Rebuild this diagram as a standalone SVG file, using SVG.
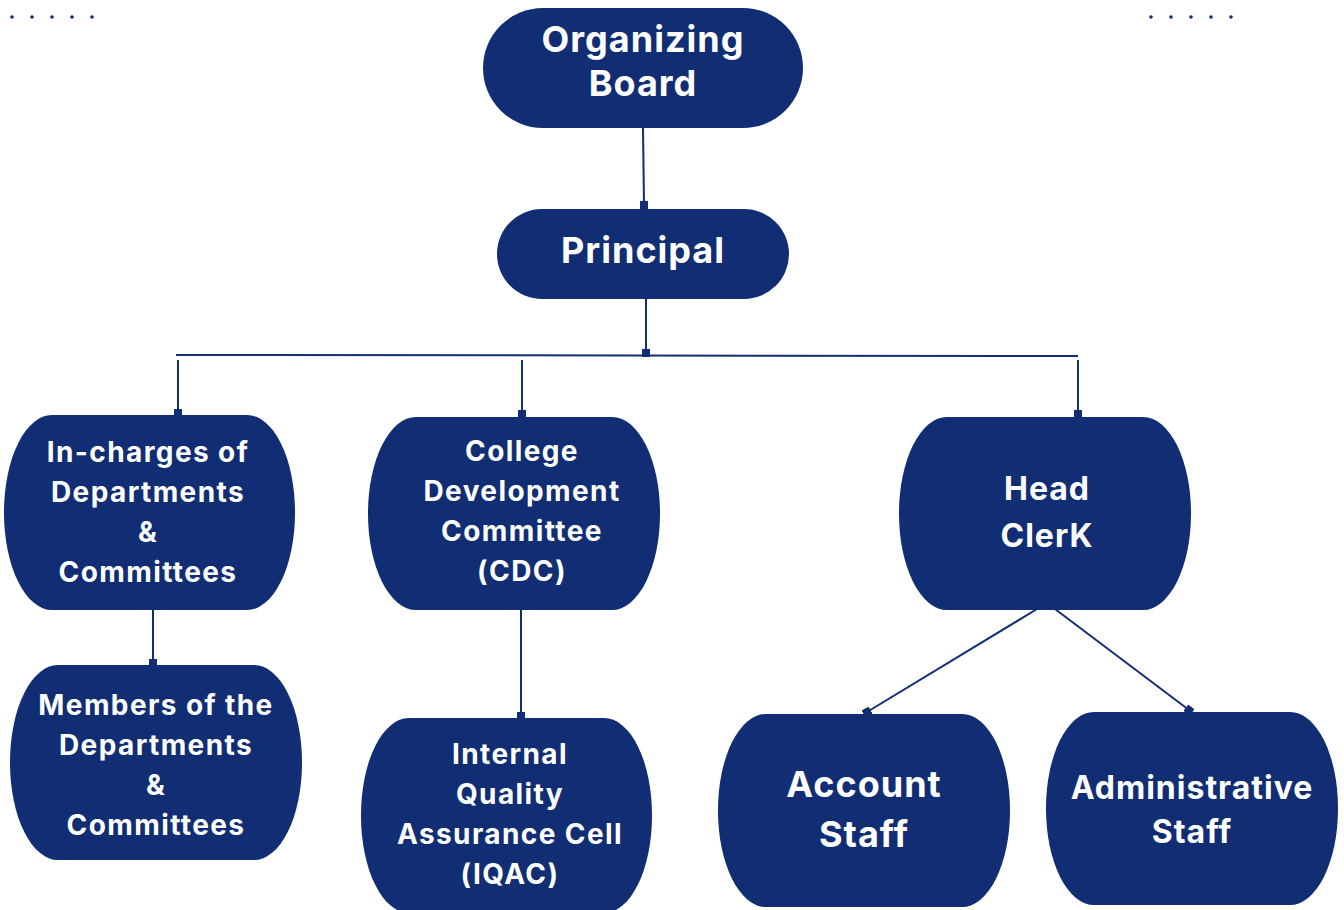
<svg xmlns="http://www.w3.org/2000/svg" width="1344" height="910" viewBox="0 0 1344 910">
<style>
.node{fill:#112d73}
.t{fill:#fff;font-family:Inter,Roboto,"Liberation Sans",sans-serif;font-weight:700;text-anchor:middle}
.s{font-size:28px;letter-spacing:1.4px}
.m{font-size:32px;letter-spacing:1px}
.l{font-size:36px;letter-spacing:1px}
.c{stroke:#112d73;stroke-width:2;fill:none}
.dot{fill:#112d73}
</style>
<defs>
<marker id="sq" markerWidth="8" markerHeight="8" refX="4" refY="4" markerUnits="userSpaceOnUse" orient="auto">
<rect x="0" y="0" width="8" height="8" fill="#112d73"/>
</marker>
</defs>
<g id="dots">
<circle class="dot" cx="12" cy="-3" r="1.8"/><circle class="dot" cx="32" cy="-3" r="1.8"/><circle class="dot" cx="52" cy="-3" r="1.8"/><circle class="dot" cx="72" cy="-3" r="1.8"/><circle class="dot" cx="92" cy="-3" r="1.8"/>
<circle class="dot" cx="12" cy="17" r="1.8"/><circle class="dot" cx="32" cy="17" r="1.8"/><circle class="dot" cx="52" cy="17" r="1.8"/><circle class="dot" cx="72" cy="17" r="1.8"/><circle class="dot" cx="92" cy="17" r="1.8"/>
<circle class="dot" cx="1151" cy="-3" r="1.8"/><circle class="dot" cx="1171" cy="-3" r="1.8"/><circle class="dot" cx="1191" cy="-3" r="1.8"/><circle class="dot" cx="1211" cy="-3" r="1.8"/><circle class="dot" cx="1231" cy="-3" r="1.8"/>
<circle class="dot" cx="1151" cy="17" r="1.8"/><circle class="dot" cx="1171" cy="17" r="1.8"/><circle class="dot" cx="1191" cy="17" r="1.8"/><circle class="dot" cx="1211" cy="17" r="1.8"/><circle class="dot" cx="1231" cy="17" r="1.8"/>
</g>
<g id="connectors">
<line class="c" x1="643" y1="128" x2="644" y2="205" marker-end="url(#sq)"/>
<line class="c" x1="646" y1="299" x2="646" y2="353" marker-end="url(#sq)"/>
<line class="c" x1="176" y1="355" x2="1078" y2="356"/>
<line class="c" x1="178" y1="360" x2="178" y2="413" marker-end="url(#sq)"/>
<line class="c" x1="522" y1="360" x2="522" y2="414" marker-end="url(#sq)"/>
<line class="c" x1="1078" y1="360" x2="1078" y2="414" marker-end="url(#sq)"/>
<line class="c" x1="153" y1="610" x2="153" y2="663" marker-end="url(#sq)"/>
<line class="c" x1="521" y1="610" x2="521" y2="716" marker-end="url(#sq)"/>
<line class="c" x1="1037" y1="609" x2="867" y2="712" marker-end="url(#sq)"/>
<line class="c" x1="1055" y1="609" x2="1189" y2="710" marker-end="url(#sq)"/>
</g>
<g id="organizing-board">
<rect class="node" x="483" y="8" width="320" height="120" rx="60" ry="60"/>
<text class="t l" x="643" y="52">Organizing</text>
<text class="t l" x="643" y="96">Board</text>
</g>
<g id="principal">
<rect class="node" x="497" y="209" width="292" height="90" rx="45" ry="45"/>
<text class="t l" x="643" y="263">Principal</text>
</g>
<g id="in-charges">
<rect class="node" x="4" y="415" width="291" height="195" rx="48" ry="97"/>
<text class="t s" x="148" y="462">In-charges of</text>
<text class="t s" x="148" y="502">Departments</text>
<text class="t s" x="148" y="542">&amp;</text>
<text class="t s" x="148" y="582">Committees</text>
</g>
<g id="cdc">
<rect class="node" x="368" y="417" width="292" height="193" rx="48" ry="96"/>
<text class="t s" x="522" y="461">College</text>
<text class="t s" x="522" y="501">Development</text>
<text class="t s" x="522" y="541">Committee</text>
<text class="t s" x="522" y="581">(CDC)</text>
</g>
<g id="head-clerk">
<rect class="node" x="899" y="417" width="292" height="193" rx="48" ry="96"/>
<text class="t m" x="1047" y="500">Head</text>
<text class="t m" x="1047" y="547">ClerK</text>
</g>
<g id="members">
<rect class="node" x="10" y="665" width="292" height="195" rx="48" ry="97"/>
<text class="t s" x="156" y="715">Members of the</text>
<text class="t s" x="156" y="755">Departments</text>
<text class="t s" x="156" y="795">&amp;</text>
<text class="t s" x="156" y="835">Committees</text>
</g>
<g id="iqac">
<rect class="node" x="361" y="718" width="291" height="195" rx="48" ry="97"/>
<text class="t s" x="510" y="764">Internal</text>
<text class="t s" x="510" y="804">Quality</text>
<text class="t s" x="510" y="844">Assurance Cell</text>
<text class="t s" x="510" y="884">(IQAC)</text>
</g>
<g id="account-staff">
<rect class="node" x="718" y="714" width="292" height="193" rx="48" ry="96"/>
<text class="t l" x="864" y="797">Account</text>
<text class="t l" x="864" y="847">Staff</text>
</g>
<g id="administrative-staff">
<rect class="node" x="1046" y="712" width="292" height="193" rx="48" ry="96"/>
<text class="t m" x="1192" y="799">Administrative</text>
<text class="t m" x="1192" y="843">Staff</text>
</g>
</svg>
